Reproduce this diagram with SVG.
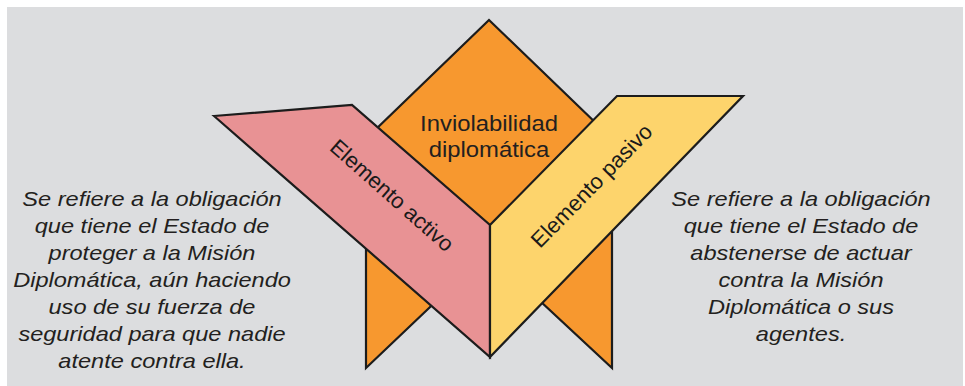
<svg xmlns="http://www.w3.org/2000/svg" width="965" height="386" viewBox="0 0 965 386">
  <style>
    .edge { stroke: #1c1c1c; stroke-width: 2.2; stroke-linejoin: miter; }
    .orange { fill: #F7982F; }
    .pink { fill: #E89294; }
    .yellow { fill: #FDD46C; }
    .title { font-family: "Liberation Sans", Arial, sans-serif; font-size: 22.5px; fill: #231F20; text-anchor: middle; }
    .band { font-family: "Liberation Sans", Arial, sans-serif; font-size: 22px; fill: #1a1a1a; text-anchor: middle; }
    .note { font-family: "Liberation Sans", Arial, sans-serif; font-size: 20.5px; font-style: italic; fill: #231F20; text-anchor: middle; }
  </style>

  <!-- panel -->
  <rect x="0" y="0" width="965" height="386" fill="#ffffff"/>
  <rect x="7" y="7" width="956" height="379" fill="#DCDDDF"/>

  <!-- tails hanging below the bands -->
  <g id="tail-left">
    <polygon class="orange edge" points="366,240 366,368 470,269 470,240"/>
  </g>
  <g id="tail-right">
    <polygon class="orange edge" points="612,225 612,368 510,273 510,225"/>
  </g>

  <!-- central diamond -->
  <g id="inviolabilidad">
    <polygon class="orange edge" points="489,20 600,127 490,240 372,133"/>
    <g transform="translate(489,0) scale(1.06,1)">
      <text class="title" x="0" y="131">Inviolabilidad</text>
      <text class="title" x="0" y="157">diplomática</text>
    </g>
  </g>

  <!-- left band -->
  <g id="elemento-activo">
    <polygon class="pink edge" points="214,116 352,105 490,225 490,357"/>
    <text class="band" transform="translate(387,201) rotate(41.5)" x="0" y="0">Elemento activo</text>
  </g>

  <!-- right band -->
  <g id="elemento-pasivo">
    <polygon class="yellow edge" points="617,96 743,96 490,357 490,225"/>
    <text class="band" transform="translate(597,191) rotate(-45.6)" x="0" y="0">Elemento pasivo</text>
  </g>

  <!-- descriptions -->
  <g id="nota-activo" transform="translate(152,0) scale(1.15,1)">
    <text class="note" x="0" y="206.5">Se refiere a la obligación</text>
    <text class="note" x="0" y="233.5">que tiene el Estado de</text>
    <text class="note" x="0" y="260.5">proteger a la Misión</text>
    <text class="note" x="0" y="287.5">Diplomática, aún haciendo</text>
    <text class="note" x="0" y="314.5">uso de su fuerza de</text>
    <text class="note" x="0" y="341.5">seguridad para que nadie</text>
    <text class="note" x="0" y="368.5">atente contra ella.</text>
  </g>
  <g id="nota-pasivo" transform="translate(801,0) scale(1.15,1)">
    <text class="note" x="0" y="206.5">Se refiere a la obligación</text>
    <text class="note" x="0" y="233.5">que tiene el Estado de</text>
    <text class="note" x="0" y="260.5">abstenerse de actuar</text>
    <text class="note" x="0" y="287.5">contra la Misión</text>
    <text class="note" x="0" y="314.5">Diplomática o sus</text>
    <text class="note" x="0" y="341.5">agentes.</text>
  </g>
</svg>
